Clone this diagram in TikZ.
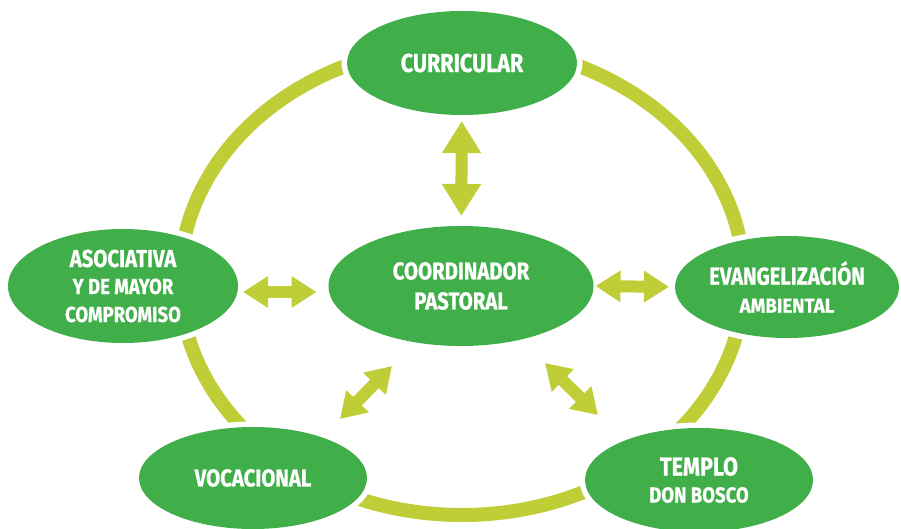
\documentclass[tikz,border=0pt]{standalone}
\usepackage{fontspec}
\setmainfont{Fira Sans}[FakeStretch=0.83,FakeBold=0.7]
\newfontfamily\subfont{Fira Sans}[FakeStretch=0.85,FakeBold=0.7]
\newfontfamily\widefont{Fira Sans}[FakeStretch=0.92,FakeBold=0.7]
\usetikzlibrary{shapes.geometric,arrows.meta}
\definecolor{leaf}{RGB}{64,174,73}
\definecolor{lime}{RGB}{191,205,55}
\begin{document}
\begin{tikzpicture}[x=1pt,y=-1pt,
  blob/.style={ellipse, fill=leaf, inner sep=0pt, outer sep=0pt,
    preaction={draw=white, line width=11pt}},
  txt/.style={text=white, align=center, inner sep=0pt},
  big/.style={font=\bfseries\fontsize{24.5}{30}\selectfont},
  ring/.style={draw=lime, line width=14pt},
  dbl/.style={draw=lime, line width=12pt,
    {Triangle[length=25pt,width=30pt]}-{Triangle[length=25pt,width=30pt]}},
  dblv/.style={draw=lime, line width=12pt,
    {Triangle[length=32pt,width=37pt]}-{Triangle[length=32pt,width=37pt]}}
]
\useasboundingbox (0,0) rectangle (901,529);
\draw[ring] (462,280) ellipse [x radius=282, y radius=235];

\node[blob, minimum width=230pt, minimum height=104pt,
  label={[txt, font=\bfseries\fontsize{26}{30}\selectfont]center:CURRICULAR}] (cur) at (462,63) {};
\node[blob, minimum width=230pt, minimum height=114pt,
  label={[txt, big]center:ASOCIATIVA\\[-3pt]{\subfont\bfseries\fontsize{21.8}{27}\selectfont Y DE MAYOR}\\[-2pt]{\subfont\bfseries\fontsize{21.8}{27}\selectfont COMPROMISO}}] (asoc) at (123,286) {};
\node[blob, minimum width=265pt, minimum height=120pt,
  label={[txt, big]center:COORDINADOR\\PASTORAL}] (coord) at (461,286) {};
\node[blob, minimum width=224pt, minimum height=102pt,
  label={[txt, big]center:EVANGELIZACIÓN\\[-2pt]{\widefont\bfseries\fontsize{20.3}{26}\selectfont AMBIENTAL}}] (evan) at (787,287) {};
\node[blob, minimum width=228pt, minimum height=102pt,
  label={[txt, big]center:VOCACIONAL}] (voc) at (253,478) {};
\node[blob, minimum width=228pt, minimum height=104pt,
  label={[txt, font=\bfseries\fontsize{26}{30}\selectfont]center:TEMPLO\\[-3pt]{\subfont\bfseries\fontsize{21.8}{27}\selectfont DON BOSCO}}] (temp) at (699,480) {};

\draw[dblv, shorten <=6pt, shorten >=10pt] (cur) -- (coord);
\draw[dbl, shorten <=5pt, shorten >=12pt] ([yshift=-6pt]asoc.east) -- ([yshift=-6pt]coord.west);
\draw[dbl, shorten <=2pt, shorten >=6pt] (coord.east) -- (evan.west);
\coordinate (dl1) at (392,366);
\coordinate (dl2) at (340,419);
\coordinate (dr1) at (545,363);
\coordinate (dr2) at (598,415);
\draw[dbl] (dl1) -- (dl2);
\draw[dbl] (dr1) -- (dr2);
\end{tikzpicture}
\end{document}
